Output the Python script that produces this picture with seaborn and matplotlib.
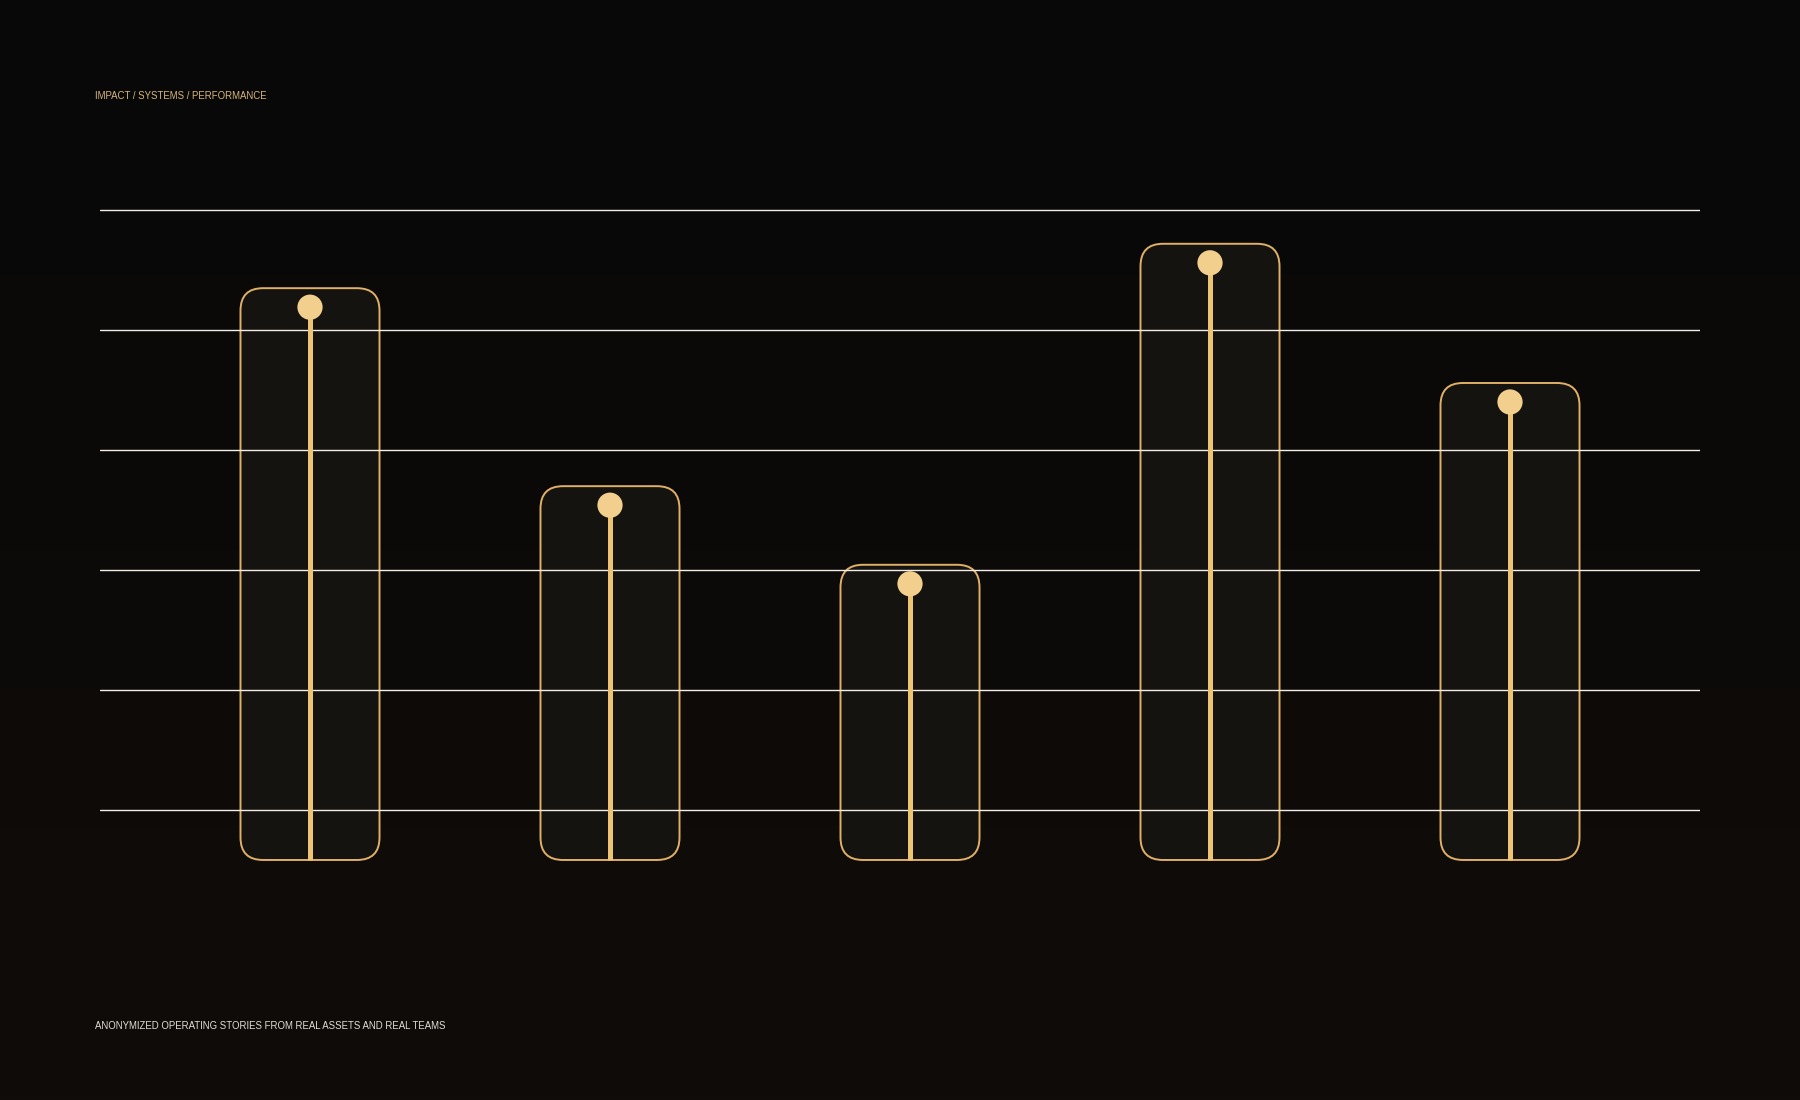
import numpy as np
import pandas as pd
import seaborn as sns
from matplotlib import pyplot as plt
from matplotlib.patches import FancyBboxPatch

# five anonymized stories, value on a 0-100 scale
stories = ["Story 1", "Story 2", "Story 3", "Story 4", "Story 5"]
scores = [83.8, 50.8, 37.7, 91.2, 68.0]
grid_ticks = [0, 20, 40, 60, 80, 100]

header = "IMPACT / SYSTEMS / PERFORMANCE"
footer = "ANONYMIZED OPERATING STORIES FROM REAL ASSETS AND REAL TEAMS"

BG = "#0a0909"
BOX_FILL = "#15130f"
BOX_EDGE = "#e0b068"
STEM = "#ecc474"
DOT = "#f3cf8e"
GRID = "#f2eee6"

sns.set_theme(style="dark")
plt.rcParams['font.family'] = ['Liberation Sans', 'DejaVu Sans']

fig = plt.figure(figsize=(18, 11), dpi=100)
fig.patch.set_facecolor(BG)

# subtle vertical gradient background
bg_ax = fig.add_axes([0, 0, 1, 1], zorder=-10)
grad = np.linspace(0, 1, 256).reshape(-1, 1)
top = np.array([8, 8, 8]) / 255
bottom = np.array([16, 12, 9]) / 255
img = top + (bottom - top) * grad[:, :, None]
bg_ax.imshow(img, aspect="auto", extent=[0, 1, 0, 1])
bg_ax.axis("off")

ax = fig.add_axes([100 / 1800, 220 / 1100, 1600 / 1800, 680 / 1100])
ax.set_facecolor((0, 0, 0, 0))

df = pd.DataFrame({"story": stories, "score": scores})
df["pos"] = np.arange(len(df))

base = -8.33
head_pad = 3.17
half_w = 0.2317

for _, row in df.iterrows():
    box = FancyBboxPatch((row.pos - half_w, base), 2 * half_w,
                         row.score + head_pad - base,
                         boxstyle="round,pad=0,rounding_size=0.075",
                         mutation_aspect=50,
                         facecolor=BOX_FILL, edgecolor=BOX_EDGE,
                         linewidth=1.4, zorder=1)
    ax.add_patch(box)

ax.vlines(df["pos"], base, df["score"], color=STEM, linewidth=3.6, zorder=3)
sns.scatterplot(data=df, x="pos", y="score", s=330, color=DOT,
                edgecolor="none", linewidth=0, zorder=4, ax=ax, legend=False)

ax.set_xlim(-0.7, 4.6333)
ax.set_ylim(-11.667, 101.667)
ax.set_yticks(grid_ticks)
ax.set_xticks([])
ax.set_axisbelow(False)
ax.grid(axis="y", color=GRID, linewidth=1.0)
ax.grid(axis="x", visible=False)
ax.tick_params(left=False, bottom=False, labelleft=False, labelbottom=False)
ax.set_xlabel("")
ax.set_ylabel("")
for s in ax.spines.values():
    s.set_visible(False)

fig.text(95 / 1800, 1 - 96 / 1100, header, color="#d8b67a",
         fontsize=6.9, va="center", ha="left")
fig.text(95 / 1800, 1 - 1026 / 1100, footer, color="#e2ddd3",
         fontsize=6.9, va="center", ha="left")

plt.savefig("out.png", dpi=100, facecolor=fig.get_facecolor())
plt.close()
